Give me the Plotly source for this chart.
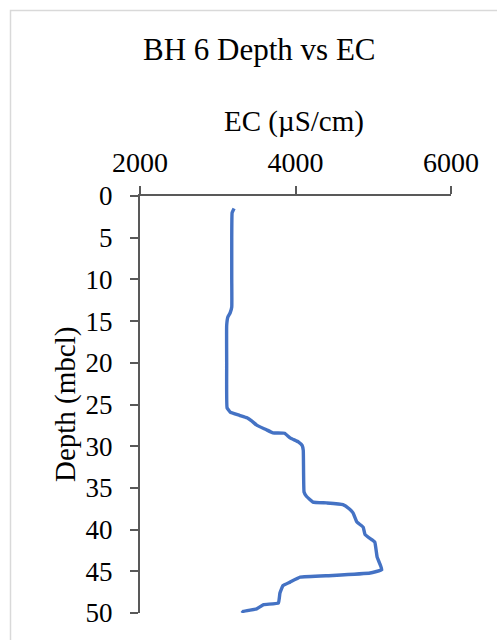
import plotly.graph_objects as go

depth_m = [1.5, 2.0, 5, 10, 13.3, 14.0, 14.5, 15.5, 20, 25.4, 25.9, 26.3, 26.6, 27.0, 27.5, 28.0, 28.4,
           28.45, 29.0, 29.5, 29.9, 30.5, 35.5, 36.0, 36.7, 36.8, 37.0, 37.5, 38.0, 39.1, 39.7, 40.6,
           41.2, 41.5, 43.3, 44.8, 45.2, 45.5, 45.7, 46.3, 46.7, 47.6, 48.8, 49.0, 49.5, 49.8, 50.0]
ec_us_cm = [3210, 3185, 3180, 3180, 3180, 3160, 3130, 3115, 3115, 3120, 3160, 3280, 3376, 3440, 3505, 3620, 3710,
            3860, 3930, 4040, 4085, 4100, 4110, 4140, 4225, 4400, 4610, 4690, 4740, 4790, 4870, 4895,
            4980, 5020, 5050, 5110, 4960, 4480, 4060, 3930, 3840, 3800, 3780, 3590, 3500, 3330, 3310]

x_ticks = [2000, 4000, 6000]
y_ticks = [0, 5, 10, 15, 20, 25, 30, 35, 40, 45, 50]

W, H = 497, 640
L, R, T, B = 140, 46, 196, 27
pw, ph = W - L - R, H - T - B

def px_x(px):
    return (px - L) / pw

def px_y(py):
    return (H - B - py) / ph

FONT = "Liberation Serif, Times New Roman, serif"

fig = go.Figure(go.Scatter(x=ec_us_cm, y=depth_m, mode="lines",
                           line=dict(color="#4472C4", width=3.4, shape="spline", smoothing=0.3),
                           hoverinfo="skip"))

fig.update_layout(
    width=W, height=H,
    margin=dict(l=L, r=R, t=T, b=B),
    paper_bgcolor="white", plot_bgcolor="white",
    showlegend=False,
    font=dict(family=FONT, color="black", size=28),
    xaxis=dict(side="top", range=[2000, 6000], tickvals=x_ticks, ticks="outside", ticklen=8,
               tickcolor="#595959", tickwidth=2, showline=True, linecolor="#595959", linewidth=2,
               showgrid=False, zeroline=False, ticklabelstandoff=3,
               tickfont=dict(size=28, family=FONT, color="black")),
    yaxis=dict(range=[50, 0], tickvals=y_ticks, ticks="outside", ticklen=8,
               tickcolor="#595959", tickwidth=2, showline=True, linecolor="#595959", linewidth=2,
               showgrid=False, zeroline=False, ticklabelstandoff=12,
               tickfont=dict(size=27, family=FONT, color="black")),
)

fig.add_annotation(text="BH 6 Depth vs EC", xref="paper", yref="paper", x=px_x(259), y=px_y(50),
                   showarrow=False, font=dict(size=31, family=FONT, color="black"),
                   xanchor="center", yanchor="middle")
fig.add_annotation(text="EC (µS/cm)", xref="paper", yref="paper", x=px_x(294), y=px_y(121),
                   showarrow=False, font=dict(size=29, family=FONT, color="black"),
                   xanchor="center", yanchor="middle")
fig.add_annotation(text="Depth (mbcl)", xref="paper", yref="paper", x=px_x(65), y=px_y(405),
                   showarrow=False, textangle=-90, font=dict(size=29, family=FONT, color="black"),
                   xanchor="center", yanchor="middle")

fig.add_shape(type="rect", xref="paper", yref="paper",
              x0=px_x(10.5), y0=px_y(700), x1=px_x(560), y1=px_y(10.5),
              line=dict(color="#D9D9D9", width=1.5), fillcolor="rgba(0,0,0,0)", layer="below")

fig.write_html("out.html")
